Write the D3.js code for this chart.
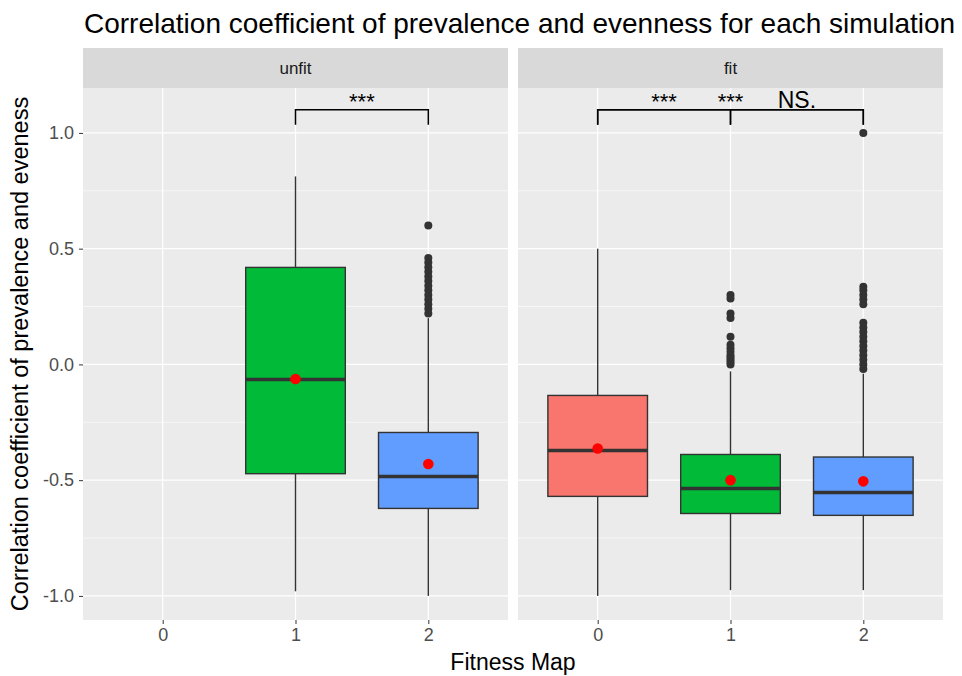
<!DOCTYPE html>
<html><head><meta charset="utf-8">
<script src="https://cdn.jsdelivr.net/npm/d3@7"></script>
<style>body{margin:0;background:#fff}</style>
</head><body><svg id="c" width="962" height="676"></svg>
<script>
const panels = ["unfit", "fit"];
const categories = ["0", "1", "2"];
// box stats per box
const boxPanel   = ["unfit", "unfit", "fit", "fit", "fit"];
const boxCat     = ["1", "2", "0", "1", "2"];
const whiskerLow = [-0.98, -1.0, -1.0, -0.975, -0.975];
const q1Vals     = [-0.472, -0.622, -0.57, -0.644, -0.652];
const medianVals = [-0.065, -0.484, -0.372, -0.536, -0.553];
const q3Vals     = [0.419, -0.294, -0.134, -0.389, -0.40];
const whiskerHigh= [0.812, 0.20, 0.50, -0.03, -0.04];
const meanVals   = [-0.063, -0.43, -0.363, -0.50, -0.505];
const outliers = [
  [],
  [0.60, 0.46, 0.44, 0.42, 0.40, 0.38, 0.36, 0.34, 0.32, 0.30, 0.28, 0.26, 0.24, 0.22],
  [],
  [0.30, 0.285, 0.22, 0.20, 0.12, 0.085, 0.07, 0.055, 0.04, 0.03, 0.02, 0.01, 0.0],
  [1.0, 0.335, 0.32, 0.30, 0.28, 0.26, 0.18, 0.16, 0.14, 0.12, 0.10, 0.08, 0.06, 0.04, 0.02, 0.0, -0.02]
];
const fillColors = {"0": "#F8766D", "1": "#00BA38", "2": "#619CFF"};
// significance brackets
const sigPanel = ["unfit", "fit", "fit", "fit"];
const sigFrom  = ["1", "0", "0", "1"];
const sigTo    = ["2", "1", "2", "2"];
const sigLabel = ["***", "***", "***", "NS."];
const sigY = 1.1, sigTick = 1.035;
const yTicks = [-1.0, -0.5, 0.0, 0.5, 1.0];
const yMinor = [-0.75, -0.25, 0.25, 0.75];

const svg = d3.select("#c");
const pTop = 88, pBottom = 620;
const y = d3.scaleLinear().domain([-1.104, 1.194]).range([pBottom, pTop]);
const px = {"unfit": [83, 508], "fit": [518, 943]};
const font = "Arial, 'Liberation Sans', sans-serif";

svg.append("text").attr("x", 84).attr("y", 33).attr("font-family", font).attr("font-size", 28)
  .attr("fill", "#000").text("Correlation coefficient of prevalence and evenness for each simulation");

panels.forEach(p => {
  const [x0, x1] = px[p];
  const xl = d3.scaleLinear().domain([-0.6, 2.6]).range([x0, x1]);
  const xc = c => xl(+c);
  const bw = (xl(1) - xl(0)) * 0.75;
  const g = svg.append("g");
  g.append("rect").attr("x", x0).attr("y", 48).attr("width", x1 - x0).attr("height", pTop - 48).attr("fill", "#D9D9D9");
  g.append("text").attr("x", (x0 + x1) / 2).attr("y", 74).attr("text-anchor", "middle").attr("font-family", font)
    .attr("font-size", 17).attr("fill", "#1A1A1A").text(p);
  g.append("rect").attr("x", x0).attr("y", pTop).attr("width", x1 - x0).attr("height", pBottom - pTop).attr("fill", "#EBEBEB");
  yMinor.forEach(v => g.append("line").attr("x1", x0).attr("x2", x1).attr("y1", y(v)).attr("y2", y(v))
    .attr("stroke", "#fff").attr("stroke-width", 0.6));
  yTicks.forEach(v => g.append("line").attr("x1", x0).attr("x2", x1).attr("y1", y(v)).attr("y2", y(v))
    .attr("stroke", "#fff").attr("stroke-width", 1.2));
  categories.forEach(c => g.append("line").attr("x1", xc(c)).attr("x2", xc(c)).attr("y1", pTop).attr("y2", pBottom)
    .attr("stroke", "#fff").attr("stroke-width", 1.2));
  const xa = svg.append("g").attr("transform", `translate(0,${pBottom})`)
    .call(d3.axisBottom(xl).tickValues([0, 1, 2]).tickFormat(d3.format("d")).tickSize(4).tickPadding(4));
  xa.select(".domain").remove();
  xa.selectAll("line").attr("stroke", "#333");
  xa.selectAll("text").attr("font-family", font).attr("font-size", 18).attr("fill", "#4D4D4D");

  boxPanel.forEach((bp, i) => {
    if (bp !== p) return;
    const cx = xc(boxCat[i]);
    const gb = g.append("g");
    gb.append("line").attr("x1", cx).attr("x2", cx).attr("y1", y(whiskerHigh[i])).attr("y2", y(q3Vals[i]))
      .attr("stroke", "#333").attr("stroke-width", 1.4);
    gb.append("line").attr("x1", cx).attr("x2", cx).attr("y1", y(q1Vals[i])).attr("y2", y(whiskerLow[i]))
      .attr("stroke", "#333").attr("stroke-width", 1.4);
    gb.append("rect").attr("x", cx - bw / 2).attr("width", bw).attr("y", y(q3Vals[i]))
      .attr("height", y(q1Vals[i]) - y(q3Vals[i])).attr("fill", fillColors[boxCat[i]])
      .attr("stroke", "#333").attr("stroke-width", 1.4);
    gb.append("line").attr("x1", cx - bw / 2).attr("x2", cx + bw / 2).attr("y1", y(medianVals[i])).attr("y2", y(medianVals[i]))
      .attr("stroke", "#333").attr("stroke-width", 3.5);
    outliers[i].forEach(v => gb.append("circle").attr("cx", cx).attr("cy", y(v)).attr("r", 4).attr("fill", "#333"));
    gb.append("circle").attr("cx", cx).attr("cy", y(meanVals[i])).attr("r", 5.3).attr("fill", "#FF0000");
  });

  sigPanel.forEach((sp, i) => {
    if (sp !== p) return;
    const a = xc(sigFrom[i]), b = xc(sigTo[i]);
    g.append("path").attr("d", `M${a},${y(sigTick)}V${y(sigY)}H${b}V${y(sigTick)}`)
      .attr("fill", "none").attr("stroke", "#000").attr("stroke-width", 1.5);
    const isNS = sigLabel[i] === "NS.";
    g.append("text").attr("x", (a + b) / 2).attr("y", isNS ? y(sigY) - 2 : y(sigY) - 1)
      .attr("text-anchor", "middle").attr("font-family", font).attr("font-size", isNS ? 23 : 22)
      .attr("fill", "#000").text(sigLabel[i]);
  });
});

const ya = svg.append("g").attr("transform", `translate(83,0)`)
  .call(d3.axisLeft(y).tickValues(yTicks).tickFormat(d => d3.format(".1f")(d).replace("\u2212", "-")).tickSize(4).tickPadding(5));
ya.select(".domain").remove();
ya.selectAll("line").attr("stroke", "#333");
ya.selectAll("text").attr("font-family", font).attr("font-size", 18).attr("fill", "#4D4D4D");

svg.append("text").attr("transform", `translate(28,${(pTop + pBottom) / 2}) rotate(-90)`)
  .attr("text-anchor", "middle").attr("font-family", font).attr("font-size", 23.5).attr("fill", "#000")
  .text("Correlation coefficient of prevalence and eveness");
svg.append("text").attr("x", (83 + 943) / 2).attr("y", 670).attr("text-anchor", "middle")
  .attr("font-family", font).attr("font-size", 23).attr("fill", "#000").text("Fitness Map");
</script></body></html>
